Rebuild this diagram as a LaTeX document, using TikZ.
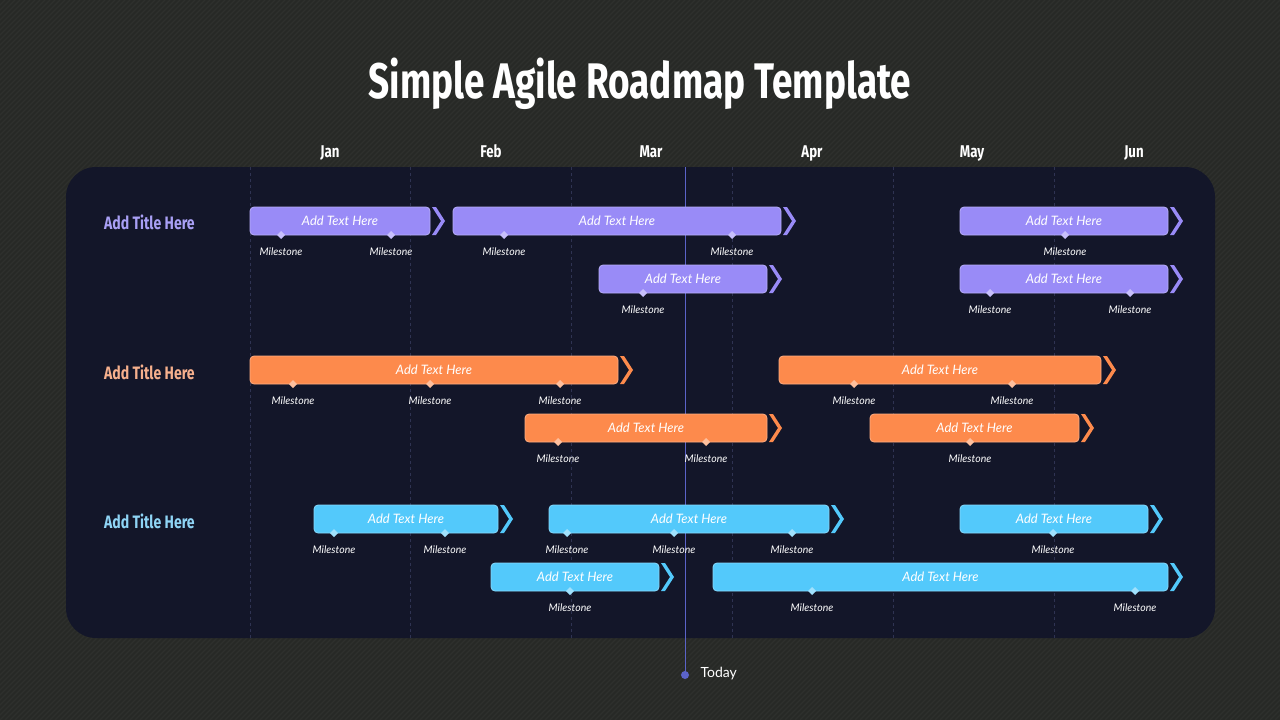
\documentclass[tikz,border=0pt]{standalone}
\usepackage{fontspec}
\setmainfont{Lato}
\newfontfamily\headfont[FakeStretch=0.78]{Fira Sans}
\newfontfamily\bigheadfont[FakeStretch=0.74]{Fira Sans}
\usetikzlibrary{calc}

\definecolor{bgdark}{HTML}{272926}
\definecolor{bgline}{HTML}{2E302D}
\definecolor{panel}{HTML}{131629}
\definecolor{gridline}{HTML}{2F3352}
\definecolor{todayline}{HTML}{5B63C8}
\definecolor{lilac}{HTML}{998BF7}
\definecolor{coral}{HTML}{FD8A4C}
\definecolor{sky}{HTML}{53C9FB}
\definecolor{lilactitle}{HTML}{A9A0F5}
\definecolor{coraltitle}{HTML}{F6B08D}
\definecolor{skytitle}{HTML}{8FD4F5}

\tikzset{
  taskbar/.style={rounded corners=4pt, minimum height=28pt, inner sep=0pt,
    text=white, font=\fontsize{13}{15}\selectfont\itshape, line width=0.8pt},
  mslabel/.style={text=white, font=\fontsize{10.5}{12}\selectfont\itshape, inner sep=0pt},
  rowtitle/.style={font=\headfont\bfseries\fontsize{18}{20}\selectfont, inner sep=0pt, anchor=west},
  monthlabel/.style={text=white, font=\headfont\bfseries\fontsize{17}{19}\selectfont, inner sep=0pt,
    text height=12pt, text depth=0pt},
}

% one bar of the roadmap: colour, name, left x, right x, middle y, milestones
\newcommand{\rmbar}[6]{%
  \node[taskbar, fill=#1, draw=#1!70!white, minimum width={(#4-#3)*1pt}] (#2) at ({(#3+#4)/2},#5) {Add Text Here};
  \fill[#1] ({#4+2},{#5-14}) -- ++(4,0) -- ++(9,14) -- ++(-9,14) -- ++(-4,0) -- ++(9,-14) -- cycle;
  \foreach \m in {#6} {
    \fill[#1!55!white] (\m,{#5+14}) +(0,-4) -- +(4,0) -- +(0,4) -- +(-4,0) -- cycle;
    \node[mslabel] at (\m,{#5+31}) {Milestone};
  }
}

\begin{document}
\begin{tikzpicture}[x=1pt, y=-1pt]
  \useasboundingbox (0,0) rectangle (1280,720);
  % background
  \fill[bgdark] (0,0) rectangle (1280,720);
  \begin{scope}
    \clip (0,0) rectangle (1280,720);
    \foreach \k in {0,5,...,2000}
      \draw[bgline, line width=1.2pt] (\k,0) -- ++(-720,720);
  \end{scope}

  % title
  \node[text=white, font=\bigheadfont\bfseries\fontsize{50}{54}\selectfont] (title) at (640,84) {Simple Agile Roadmap Template};

  % months
  \foreach \mx/\mn in {330/Jan, 491/Feb, 651/Mar, 812/Apr, 972/May, 1134/Jun}
    \node[monthlabel] (m-\mn) at (\mx,151) {\mn};

  % panel and grid
  \fill[panel, rounded corners=30pt] (66,167) rectangle (1215,638);
  \foreach \gx in {250,410,571,732,893,1054}
    \draw[gridline, dashed, line width=0.7pt] (\gx,167) -- (\gx,638);

  % today marker
  \coordinate (today) at (685,675);
  \draw[todayline, line width=1pt] (685,167) -- (today);
  \fill[todayline] (today) circle (4pt);
  \node[text=white, font=\fontsize{14}{16}\selectfont, anchor=west] (todaytext) at (697,674) {Today};

  % row titles
  \node[rowtitle, text=lilactitle] (row1) at (104,222) {Add Title Here};
  \node[rowtitle, text=coraltitle] (row2) at (104,372) {Add Title Here};
  \node[rowtitle, text=skytitle] (row3) at (104,521) {Add Title Here};

  % first row
  \rmbar{lilac}{p1}{250}{430}{221}{281,391}
  \rmbar{lilac}{p2}{453}{781}{221}{504,732}
  \rmbar{lilac}{p3}{960}{1168}{221}{1065}
  \rmbar{lilac}{p4}{599}{767}{279}{643}
  \rmbar{lilac}{p5}{960}{1168}{279}{990,1130}

  % second row
  \rmbar{coral}{o1}{250}{618}{370}{293,430,560}
  \rmbar{coral}{o2}{779}{1101}{370}{854,1012}
  \rmbar{coral}{o3}{525}{767}{428}{558,706}
  \rmbar{coral}{o4}{870}{1079}{428}{970}

  % third row
  \rmbar{sky}{s1}{314}{498}{519}{334,445}
  \rmbar{sky}{s2}{549}{829}{519}{567,674,792}
  \rmbar{sky}{s3}{960}{1148}{519}{1053}
  \rmbar{sky}{s4}{491}{659}{577}{570}
  \rmbar{sky}{s5}{713}{1168}{577}{812,1135}
\end{tikzpicture}
\end{document}
